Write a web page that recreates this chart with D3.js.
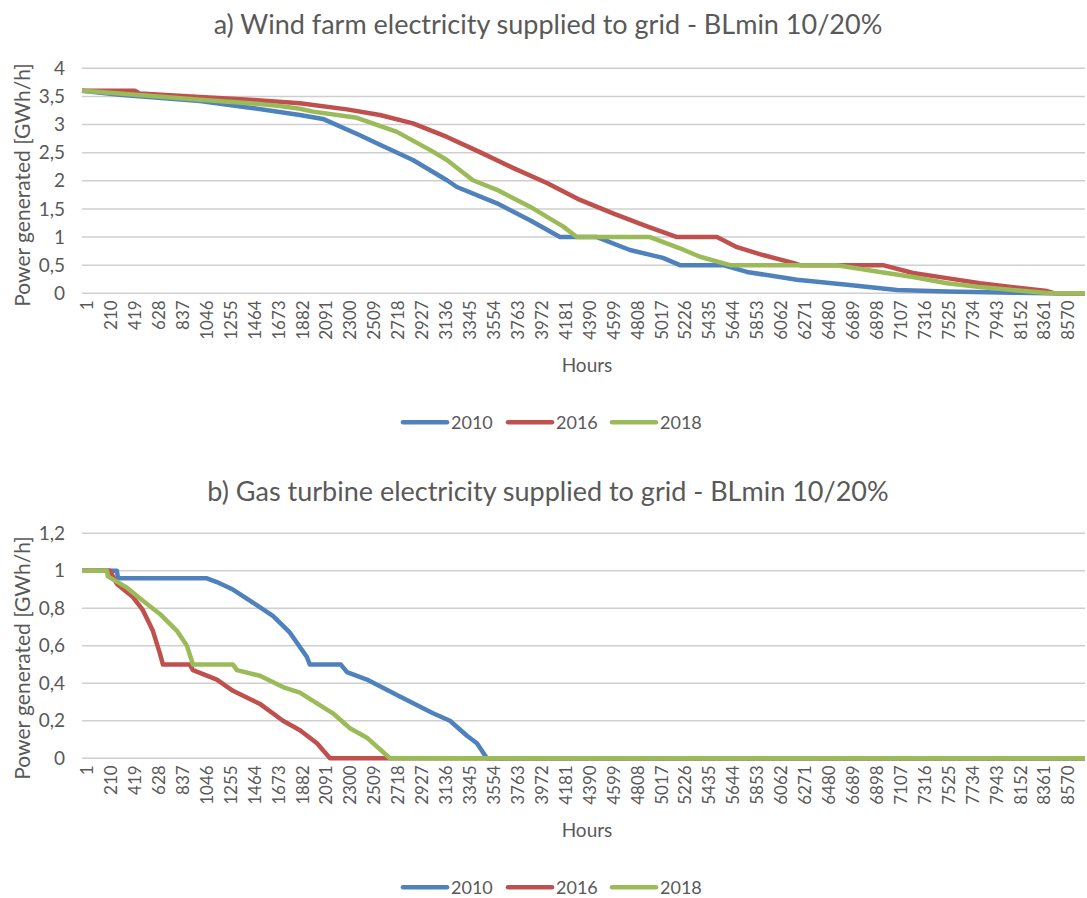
<!DOCTYPE html>
<html>
<head>
<meta charset="utf-8">
<script src="https://cdnjs.cloudflare.com/ajax/libs/d3/7.8.5/d3.min.js"></script>
<style>
  body { margin: 0; background: #ffffff; }
  text { font-family: Lato, "Open Sans", sans-serif; fill: #595959; }
  .grid line { stroke: #cfcfcf; stroke-width: 1.5; }
  .x-axis path, .y-axis path { display: none; }
  .x-axis line, .y-axis line { display: none; }
</style>
</head>
<body>
<div class="chart"></div>
<script>
// Power duration curves, two panels

var svgWidth = 1087;
var svgHeight = 898;

var years = ["2010", "2016", "2018"];
var colors = ["#4f81bd", "#c0504d", "#9bbb59"];

// x-axis tick labels (hours)
var hourTicks = [1, 210, 419, 628, 837, 1046, 1255, 1464, 1673, 1882, 2091, 2300, 2509,
  2718, 2927, 3136, 3345, 3554, 3763, 3972, 4181, 4390, 4599, 4808, 5017, 5226, 5435,
  5644, 5853, 6062, 6271, 6480, 6689, 6898, 7107, 7316, 7525, 7734, 7943, 8152, 8361, 8570];

var windTicks = [0, 0.5, 1, 1.5, 2, 2.5, 3, 3.5, 4];
var gasTicks = [0, 0.2, 0.4, 0.6, 0.8, 1, 1.2];

// [hour, GWh/h]
var wind2010 = [[1, 3.6], [332, 3.53], [1031, 3.42], [1467, 3.3], [1904, 3.17], [2105, 3.1],
  [2428, 2.81], [2603, 2.64], [2891, 2.37], [3188, 2.01], [3275, 1.89], [3625, 1.6],
  [3913, 1.3], [4175, 1.0], [4498, 1.0], [4786, 0.77], [5074, 0.63], [5223, 0.5],
  [5599, 0.5], [5808, 0.38], [6245, 0.24], [6682, 0.15], [7118, 0.06], [7555, 0.03],
  [8131, 0.01], [8455, 0], [8760, 0]];

var wind2016 = [[1, 3.6], [463, 3.6], [507, 3.55], [1031, 3.49], [1467, 3.44], [1904, 3.38],
  [2315, 3.27], [2603, 3.17], [2891, 3.02], [3188, 2.78], [3476, 2.51], [3764, 2.23],
  [4061, 1.96], [4350, 1.66], [4638, 1.42], [4935, 1.19], [5197, 1.0], [5546, 1.0],
  [5721, 0.82], [5948, 0.68], [6210, 0.54], [6271, 0.5], [6996, 0.5], [7258, 0.36],
  [7555, 0.27], [7843, 0.18], [8131, 0.11], [8428, 0.04], [8498, 0], [8760, 0]];

var wind2018 = [[1, 3.6], [158, 3.58], [1031, 3.44], [1467, 3.38], [1729, 3.33], [1904, 3.28],
  [2018, 3.23], [2402, 3.12], [2751, 2.87], [3039, 2.55], [3188, 2.37], [3415, 2.01],
  [3625, 1.84], [3913, 1.54], [4201, 1.19], [4323, 1.0], [4961, 1.0], [5223, 0.8],
  [5398, 0.65], [5660, 0.5], [6594, 0.5], [6970, 0.38], [7258, 0.29], [7555, 0.18],
  [7843, 0.11], [8280, 0.03], [8455, 0], [8760, 0]];

var gas2010 = [[1, 1.0], [306, 1.0], [315, 0.96], [1092, 0.96], [1179, 0.94], [1319, 0.9],
  [1494, 0.83], [1668, 0.76], [1817, 0.67], [1965, 0.54], [1991, 0.5], [2262, 0.5],
  [2315, 0.46], [2489, 0.42], [2777, 0.33], [3066, 0.24], [3214, 0.2], [3363, 0.12],
  [3450, 0.08], [3537, 0], [8760, 0]];

var gas2016 = [[1, 1.0], [245, 1.0], [306, 0.93], [446, 0.86], [533, 0.79], [620, 0.68],
  [681, 0.56], [708, 0.5], [943, 0.5], [970, 0.47], [1179, 0.42], [1319, 0.36],
  [1555, 0.29], [1756, 0.2], [1904, 0.15], [2053, 0.08], [2167, 0], [8760, 0]];

var gas2018 = [[1, 1.0], [219, 1.0], [227, 0.97], [393, 0.91], [533, 0.84], [681, 0.77],
  [830, 0.68], [917, 0.6], [970, 0.5], [1319, 0.5], [1354, 0.47], [1555, 0.44],
  [1756, 0.38], [1904, 0.35], [2192, 0.24], [2341, 0.16], [2489, 0.11], [2690, 0], [8760, 0]];

var svg = d3.select(".chart")
  .append("svg")
  .attr("width", svgWidth)
  .attr("height", svgHeight);

function commaNum(v) {
  return String(v).replace(".", ",");
}

// draws one panel; top = y pixel of the highest gridline
function drawPanel(opts) {
  var g = svg.append("g");

  var xScale = d3.scaleLinear()
    .domain([1, 8760])
    .range([82, 1085]);

  var yScale = d3.scaleLinear()
    .domain([0, d3.max(opts.ticks)])
    .range([opts.bottom, opts.top]);

  // title
  g.append("text")
    .attr("x", 548)
    .attr("y", opts.titleY)
    .attr("text-anchor", "middle")
    .style("font-size", "27px")
    .text(opts.title);

  // gridlines
  g.append("g")
    .attr("class", "grid")
    .selectAll("line")
    .data(opts.ticks)
    .enter().append("line")
      .attr("x1", 82)
      .attr("x2", 1085)
      .attr("y1", function(d) { return yScale(d); })
      .attr("y2", function(d) { return yScale(d); });

  var leftAxis = d3.axisLeft(yScale)
    .tickValues(opts.ticks)
    .tickSize(0)
    .tickPadding(0)
    .tickFormat(commaNum);

  g.append("g")
    .attr("class", "y-axis")
    .attr("transform", "translate(65,0)")
    .call(leftAxis)
    .selectAll("text")
      .style("font-size", "19px");

  var bottomAxis = d3.axisBottom(xScale)
    .tickValues(hourTicks)
    .tickSize(0)
    .tickFormat(function(d) { return d; });

  g.append("g")
    .attr("class", "x-axis")
    .attr("transform", "translate(0," + opts.bottom + ")")
    .call(bottomAxis)
    .selectAll("text")
      .style("font-size", "17px")
      .attr("text-anchor", "end")
      .attr("x", -7)
      .attr("y", 0)
      .attr("dy", "0.33em")
      .attr("dx", 0)
      // shift labels a touch right like the original
      .attr("transform", "translate(5,0) rotate(-90)");

  // y-axis title
  g.append("text")
    .attr("transform", "translate(30," + opts.yTitleY + ") rotate(-90)")
    .attr("text-anchor", "middle")
    .style("font-size", "21px")
    .text("Power generated [GWh/h]");

  // x-axis title
  g.append("text")
    .attr("x", 587)
    .attr("y", opts.bottom + 79)
    .attr("text-anchor", "middle")
    .style("font-size", "19px")
    .text("Hours");

  var line = d3.line()
    .x(function(d) { return xScale(d[0]); })
    .y(function(d) { return yScale(d[1]); });

  opts.series.forEach(function(s, i) {
    g.append("path")
      .datum(s)
      .attr("fill", "none")
      .attr("stroke", colors[i])
      .attr("stroke-width", 4.5)
      .attr("stroke-linejoin", "round")
      .attr("d", line);
  });

  // legend
  var legendX = [403, 508, 612];
  var legend = g.append("g")
    .attr("transform", "translate(0," + (opts.bottom + 129) + ")");

  years.forEach(function(yr, i) {
    legend.append("line")
      .attr("x1", legendX[i])
      .attr("x2", legendX[i] + 44)
      .attr("y1", 0)
      .attr("y2", 0)
      .attr("stroke", colors[i])
      .attr("stroke-width", 4.5)
      .attr("stroke-linecap", "round");
    legend.append("text")
      .attr("x", legendX[i] + 48)
      .attr("y", 7)
      .style("font-size", "18px")
      .text(yr);
  });
}

drawPanel({
  title: "a) Wind farm electricity supplied to grid - BLmin 10/20%",
  titleY: 34,
  top: 68.3,
  bottom: 293.3,
  ticks: windTicks,
  yTitleY: 185,
  series: [wind2010, wind2016, wind2018]
});

drawPanel({
  title: "b) Gas turbine electricity supplied to grid - BLmin 10/20%",
  titleY: 501,
  top: 533.3,
  bottom: 758.3,
  ticks: gasTicks,
  yTitleY: 658,
  series: [gas2010, gas2016, gas2018]
});
</script>
</body>
</html>
